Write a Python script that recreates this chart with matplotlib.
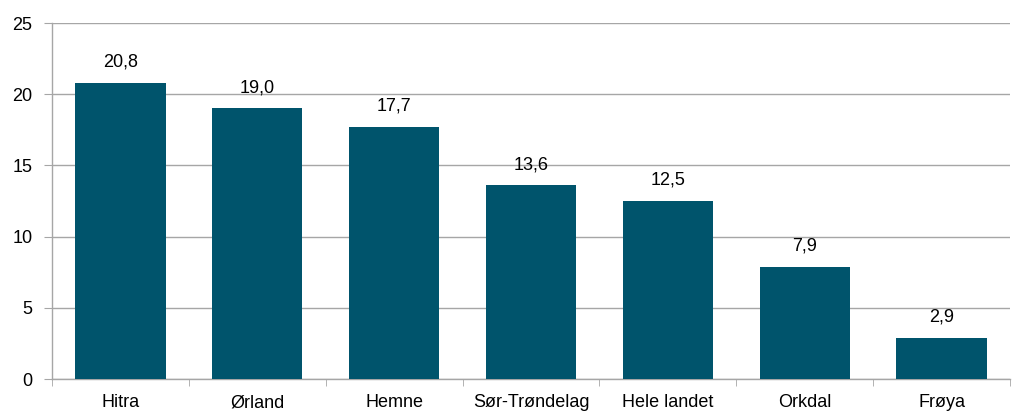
import numpy as np
import matplotlib.pyplot as plt

plt.rcParams.update({
    "font.family": ["Liberation Sans", "DejaVu Sans"],
    "font.size": 13,
})

kommuner = ["Hitra", "Ørland", "Hemne", "Sør-Trøndelag", "Hele landet", "Orkdal", "Frøya"]
verdier = [20.8, 19.0, 17.7, 13.6, 12.5, 7.9, 2.9]

bar_color = "#00546C"
grid_color = "#A6A6A6"

fig = plt.figure(figsize=(10.21, 4.13), dpi=100)
ax = fig.add_axes([52 / 1021, 1 - 379 / 413, (1010 - 52) / 1021, (379 - 23) / 413])

x = np.arange(len(kommuner))
ax.bar(x, verdier, width=0.66, color=bar_color, zorder=3)

# value labels above each bar, Norwegian decimal comma
for xi, v in zip(x, verdier):
    ax.text(xi, v + 0.85, f"{v:.1f}".replace(".", ","), ha="center", va="bottom",
            fontsize=13, color="black")

ax.set_ylim(0, 25)
ax.set_xlim(-0.5, len(kommuner) - 0.5)
ax.set_yticks(range(0, 26, 5))
ax.yaxis.grid(True, color=grid_color, linewidth=1.0, zorder=0)

ax.set_xticks(x)
ax.set_xticklabels(kommuner, fontsize=13)
ax.set_xticks(np.arange(-0.5, len(kommuner), 1.0), minor=True)
ax.tick_params(axis="x", which="major", length=0, pad=11)
ax.tick_params(axis="x", which="minor", length=5, color=grid_color, direction="out")
ax.tick_params(axis="y", length=6, color=grid_color, direction="out", labelsize=13, pad=8)

for side in ["top", "right"]:
    ax.spines[side].set_visible(False)
for side in ["left", "bottom"]:
    ax.spines[side].set_color(grid_color)
    ax.spines[side].set_linewidth(1.0)

fig.savefig("out.png", dpi=100)
